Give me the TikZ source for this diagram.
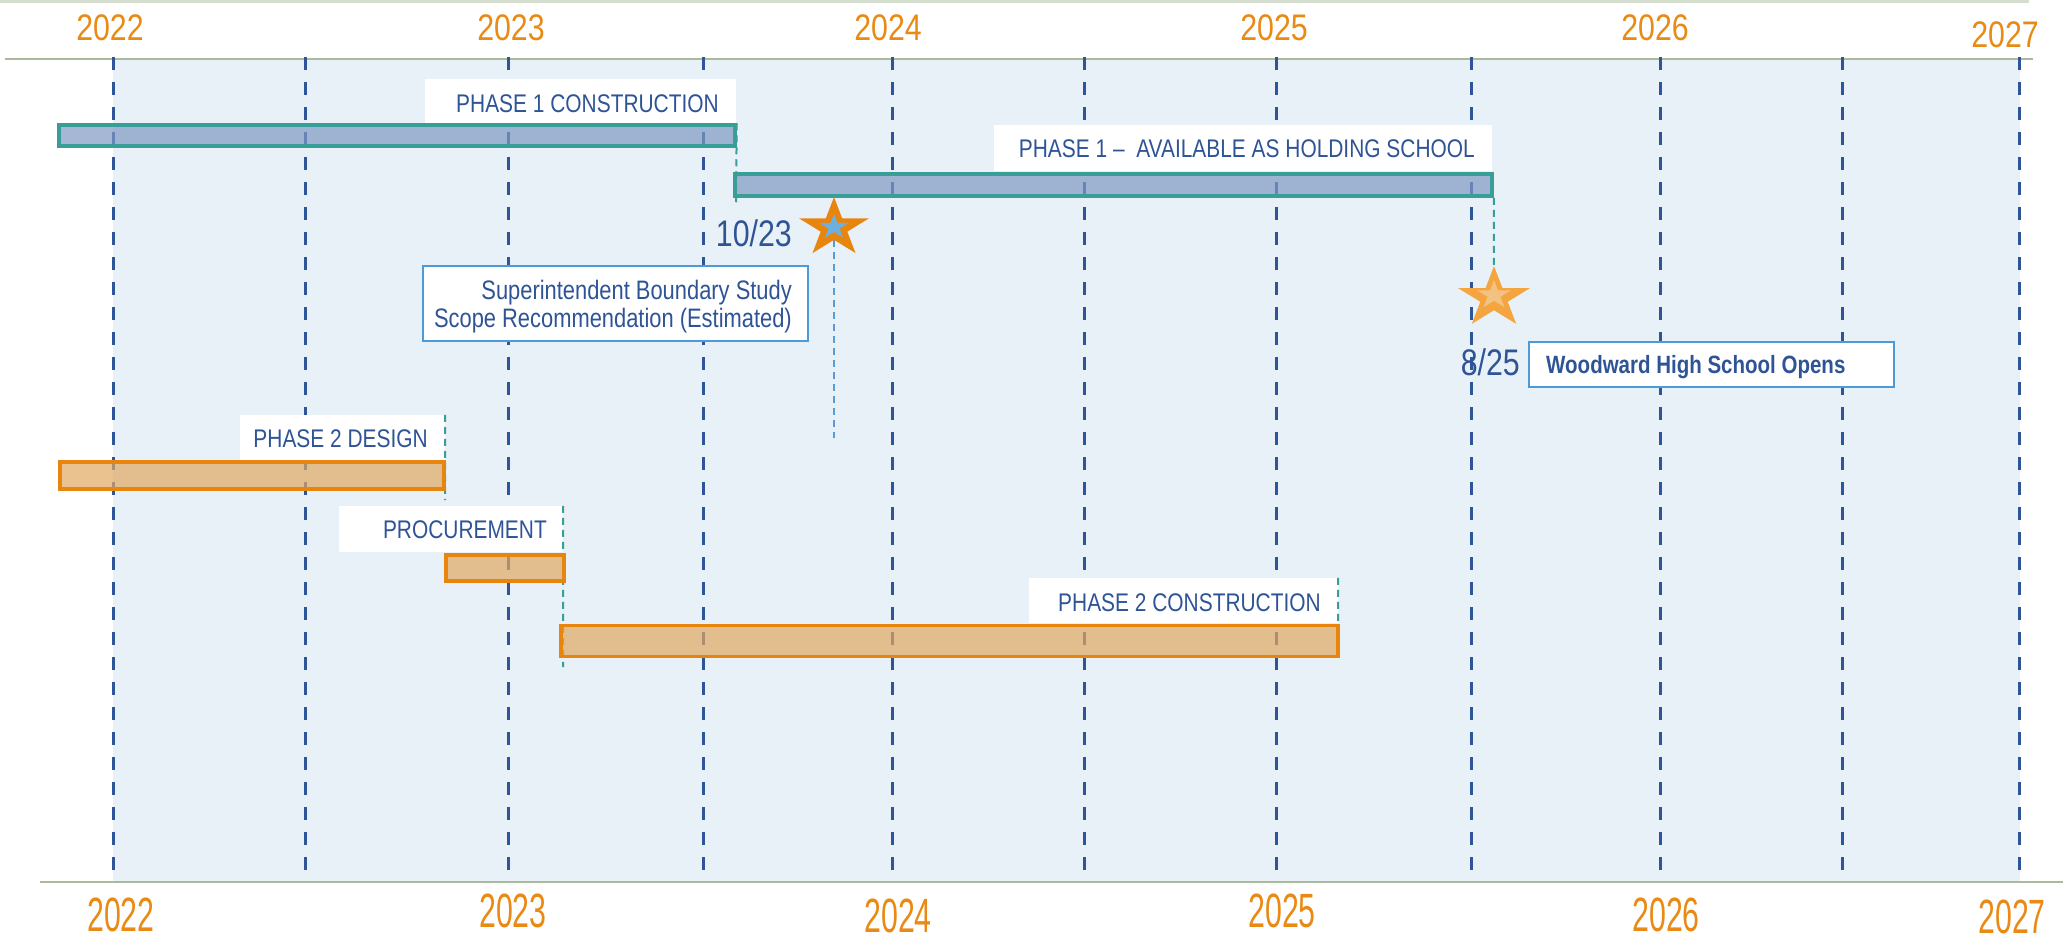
\documentclass[tikz,border=0pt]{standalone}
\usepackage{fontspec}
\setmainfont{Liberation Sans}[FakeStretch=0.82]
\usetikzlibrary{shapes.geometric}
\definecolor{bgblue}{HTML}{E8F0F8}
\definecolor{gridblue}{HTML}{2E5597}
\definecolor{txtblue}{HTML}{2F5496}
\definecolor{yearorange}{HTML}{E98A15}
\definecolor{axisgreen}{HTML}{A9BA9D}
\definecolor{toplinec}{HTML}{D5DDCF}
\definecolor{tealc}{HTML}{3A9E98}
\definecolor{barblue}{HTML}{7F98C2}
\definecolor{barorange}{HTML}{E0A860}
\definecolor{borange}{HTML}{E8850F}
\definecolor{boxblue}{HTML}{4C9AD8}
\definecolor{starorange}{HTML}{E8850F}
\definecolor{starlight}{HTML}{F4A540}
\definecolor{starinner}{HTML}{6CB0DF}
\definecolor{starpale}{HTML}{F3C283}
\definecolor{linkblue}{HTML}{5B9BD5}
\newcommand\fyr{\fontsize{37}{44}\selectfont}
\newcommand\flbl{\fontsize{25.5}{30}\selectfont}
\newcommand\fsup{\fontsize{26.7}{28}\selectfont}
\newcommand\fdate{\fontsize{37}{44}\selectfont}
\newcommand\fwood{\fontsize{25}{30}\selectfont\bfseries}
\pgfdeclarelayer{bg}
\pgfdeclarelayer{conn}
\pgfsetlayers{bg,conn,main}
\begin{document}
\begin{tikzpicture}[x=1pt,y=-1pt,
  grid/.style={gridblue, line width=3, dash pattern=on 12.5 off 12.5},
  bar/.style={rectangle, inner sep=0, line width=3.5},
  bluebar/.style={bar, draw=tealc, fill=barblue, fill opacity=0.7},
  orangebar/.style={bar, draw=borange, fill=barorange, fill opacity=0.7},
  lblbox/.style={rectangle, inner sep=0, fill=white},
  lbl/.style={inner sep=0, text=txtblue, font=\flbl, anchor=base east},
  supt/.style={inner sep=0, text=txtblue, font=\fsup, anchor=base east},
  infobox/.style={rectangle, inner sep=0, draw=boxblue, line width=2.5, fill=white},
  datet/.style={inner sep=0, text=txtblue, font=\fdate, anchor=base east},
  yeart/.style={inner sep=0, text=yearorange, font=\fyr, anchor=base},
  tealdash/.style={tealc, line width=2, dash pattern=on 7 off 5},
  bluedash/.style={linkblue, line width=2.2, dash pattern=on 7 off 5},
  starshape/.style={star, star points=5, star point ratio=2.618, inner sep=0, xscale=1.18, transform shape}
]
\useasboundingbox (0,0) rectangle (2063,940);

\begin{pgfonlayer}{bg}
  \fill[bgblue] (113,59) rectangle (2020,882);
  \draw[toplinec, line width=3] (0,1) -- (2029,1);
  \draw[axisgreen, line width=2] (5,59) -- (2033,59);
  \draw[axisgreen, line width=2.5] (40,882) -- (2063,882);
  \foreach \x in {113,305,508,703,892,1084,1276,1471,1660,1842,2019}
    \draw[grid] (\x,57) -- (\x,880);
  % label boxes
  \node[lblbox, minimum width=311, minimum height=46] (l1) at (580.5,102) {};
  \node[lblbox, minimum width=498, minimum height=46] (l2) at (1243,148) {};
  \node[lblbox, minimum width=205, minimum height=46] (l3) at (342.5,438) {};
  \node[lblbox, minimum width=224, minimum height=46] (l4) at (451,529) {};
  \node[lblbox, minimum width=309, minimum height=45] (l5) at (1183.5,600.5) {};
\end{pgfonlayer}

% bars
\node[bluebar, minimum width=676, minimum height=21] (b1) at (397,135.5) {};
\node[bluebar, minimum width=757, minimum height=22] (b2) at (1113.5,185) {};
\node[orangebar, minimum width=384, minimum height=27] (b3) at (252,475.5) {};
\node[orangebar, minimum width=118, minimum height=26] (b4) at (505,568) {};
\node[orangebar, minimum width=777, minimum height=31] (b5) at (949.5,641) {};

% stars
\node[starshape, minimum size=62, fill=starorange] (s1) at (834,228) {};
\node[starshape, minimum size=26, fill=starinner] (s1i) at (834,227) {};
\node[starshape, minimum size=64, fill=starlight] (s2) at (1494,298) {};
\node[starshape, minimum size=30, fill=starpale] (s2i) at (1494,295) {};

% connector end points
\coordinate (e1) at (736,203);
\coordinate (e3) at (445,500);
\coordinate (e4) at (563,667);
\coordinate (e5) at (1338,658);
\coordinate (e6) at (834,438);

\begin{pgfonlayer}{conn}
  \draw[tealdash] (b1.north east) -- (e1);
  \draw[tealdash] (b2.south east) -- (s2.center);
  \draw[tealdash] (l3.north east) -- (e3);
  \draw[tealdash] (l4.north east) -- (e4);
  \draw[tealdash] (l5.north east) -- (e5);
  \draw[bluedash] (s1.center) -- (e6);
\end{pgfonlayer}

% label texts
\node[lbl] (t1) at (719,112) {PHASE 1 CONSTRUCTION};
\node[lbl] (t2) at (1475,157) {PHASE 1 –\ \ AVAILABLE AS HOLDING SCHOOL};
\node[lbl] (t3) at (428,447) {PHASE 2 DESIGN};
\node[lbl] (t4) at (547,538) {PROCUREMENT};
\node[lbl] (t5) at (1321,611) {PHASE 2 CONSTRUCTION};

% superintendent box
\node[infobox, minimum width=385, minimum height=75] (sb) at (615.5,303.5) {};
\node[supt] (sbt1) at (792,299) {Superintendent Boundary Study};
\node[supt] (sbt2) at (792,327) {Scope Recommendation (Estimated)};
\node[datet] (d1) at (792,246.5) {10/23};

% woodward box
\node[infobox, minimum width=365, minimum height=45] (wb) at (1711.5,364.5) {};
\node[inner sep=0, text=txtblue, font=\fwood, anchor=base west] (wbt) at (1546,373) {Woodward High School Opens};
\node[datet] (d2) at (1520,375) {8/25};

% top years
\node[yeart] (ty22) at (110,40.5) {2022};
\node[yeart] (ty23) at (511,40.5) {2023};
\node[yeart] (ty24) at (888,40.5) {2024};
\node[yeart] (ty25) at (1274,40.5) {2025};
\node[yeart] (ty26) at (1655,40.5) {2026};
\node[yeart] (ty27) at (2005,47.5) {2027};

% bottom years
\node[yeart] (by22) at (121,931) {\scalebox{1}[1.3]{2022}};
\node[yeart] (by23) at (513,927) {\scalebox{1}[1.3]{2023}};
\node[yeart] (by24) at (898,932) {\scalebox{1}[1.3]{2024}};
\node[yeart] (by25) at (1282,927) {\scalebox{1}[1.3]{2025}};
\node[yeart] (by26) at (1666,931) {\scalebox{1}[1.3]{2026}};
\node[yeart] (by27) at (2012,933) {\scalebox{1}[1.3]{2027}};
\end{tikzpicture}
\end{document}
